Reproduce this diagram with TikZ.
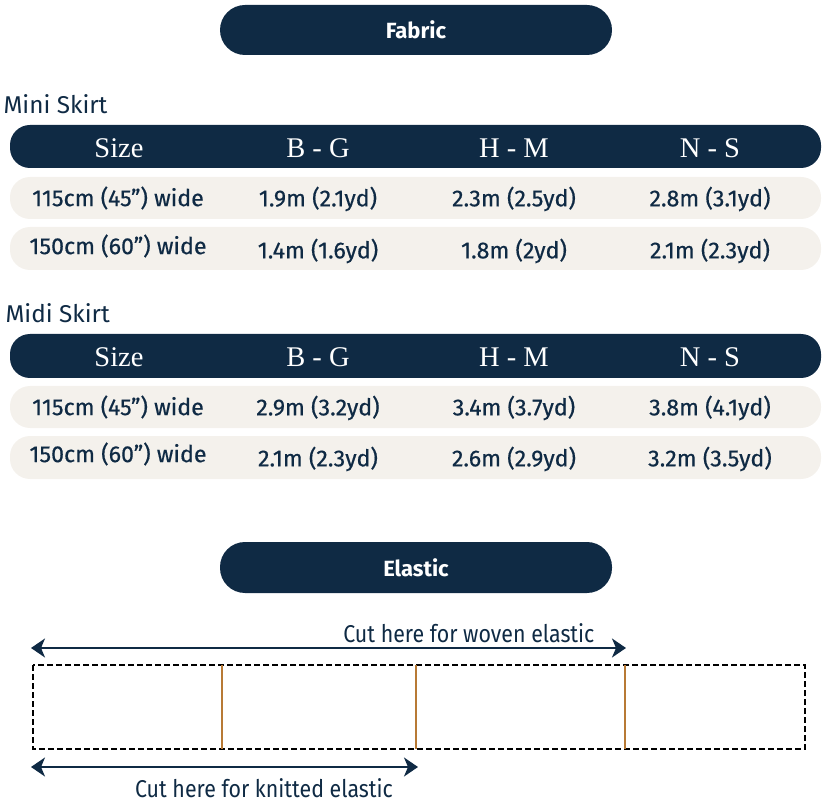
\documentclass[tikz,border=0pt]{standalone}
\usepackage{fontspec}
\setmainfont{Fira Sans}
\newfontfamily\headfont{Liberation Serif}
\newfontfamily\cellfont[FakeBold=0.5]{Fira Sans}
\newfontfamily\cutfont[FakeStretch=0.88]{Fira Sans}
\usetikzlibrary{arrows.meta}
\definecolor{navy}{HTML}{0F2A44}
\definecolor{rowbg}{HTML}{F4F1EC}
\definecolor{cutline}{HTML}{B87A35}
\tikzset{
  pill/.style={fill=navy, rounded corners=25pt},
  pilltext/.style={text=white, font=\bfseries\fontsize{22}{26}\selectfont},
  headrow/.style={fill=navy, rounded corners=20pt},
  datarow/.style={fill=rowbg, rounded corners=20pt},
  headtext/.style={text=white, font=\headfont\fontsize{28.5}{32}\selectfont},
  celltext/.style={text=navy, font=\cellfont\fontsize{23.2}{26}\selectfont},
  title/.style={text=navy, font=\fontsize{24.3}{28}\selectfont, anchor=west},
  cuttext/.style={text=navy, font=\cutfont\fontsize{24.3}{28}\selectfont},
  dimarrow/.style={navy, line width=2pt, {Stealth[length=14pt,width=19pt,inset=4pt]}-{Stealth[length=14pt,width=19pt,inset=4pt]}},
}
\begin{document}
\begin{tikzpicture}[x=1pt,y=1pt]
\useasboundingbox (0,0) rectangle (831,-805);
% Fabric pill
\fill[pill] (220,-5) rectangle (612,-55);
\node[pilltext] (fab) at (416,-30) {Fabric};
% Mini skirt
\node[title] (mini) at (0,-104) {Mini Skirt};
\fill[headrow] (10,-125) rectangle (821,-168);
\fill[datarow] (10,-177) rectangle (821,-219);
\fill[datarow] (10,-227) rectangle (821,-270);
\node[headtext] (m0) at (119,-148) {Size};
\node[headtext] (m1) at (318,-148) {B - G};
\node[headtext] (m2) at (514,-148) {H - M};
\node[headtext] (m3) at (710,-148) {N - S};
\node[celltext] (m10) at (118,-198) {115cm (45”) wide};
\node[celltext] (m11) at (318,-199) {1.9m (2.1yd)};
\node[celltext] (m12) at (514,-199) {2.3m (2.5yd)};
\node[celltext] (m13) at (710,-199) {2.8m (3.1yd)};
\node[celltext] (m20) at (118,-246) {150cm (60”) wide};
\node[celltext] (m21) at (318,-251) {1.4m (1.6yd)};
\node[celltext] (m22) at (514,-251) {1.8m (2yd)};
\node[celltext] (m23) at (710,-251) {2.1m (2.3yd)};
% Midi skirt
\node[title] (midi) at (2,-313) {Midi Skirt};
\fill[headrow] (10,-334) rectangle (821,-378);
\fill[datarow] (10,-386) rectangle (821,-428);
\fill[datarow] (10,-436) rectangle (821,-479);
\node[headtext] (d0) at (119,-357) {Size};
\node[headtext] (d1) at (318,-357) {B - G};
\node[headtext] (d2) at (514,-357) {H - M};
\node[headtext] (d3) at (710,-357) {N - S};
\node[celltext] (d10) at (118,-407) {115cm (45”) wide};
\node[celltext] (d11) at (318,-408) {2.9m (3.2yd)};
\node[celltext] (d12) at (514,-408) {3.4m (3.7yd)};
\node[celltext] (d13) at (710,-408) {3.8m (4.1yd)};
\node[celltext] (d20) at (118,-454) {150cm (60”) wide};
\node[celltext] (d21) at (318,-459) {2.1m (2.3yd)};
\node[celltext] (d22) at (514,-459) {2.6m (2.9yd)};
\node[celltext] (d23) at (710,-459) {3.2m (3.5yd)};
% Elastic pill
\fill[pill] (220,-542) rectangle (612,-593);
\node[pilltext] (ela) at (416,-568) {Elastic};
% elastic strip
\coordinate (wl) at (31,-648);
\coordinate (wr) at (626,-648);
\coordinate (kl) at (31,-767);
\coordinate (kr) at (418,-767);
\draw[dimarrow] (wl) -- (wr);
\node[cuttext, anchor=east] (wt) at (598,-633) {Cut here for woven elastic};
\draw[dash pattern=on 6pt off 3pt, line width=1.2pt, black] (33,-665) rectangle (805,-749);
\draw[cutline, line width=1.4pt] (222,-665) -- (222,-749);
\draw[cutline, line width=1.4pt] (416,-665) -- (416,-749);
\draw[cutline, line width=1.4pt] (625,-665) -- (625,-749);
\draw[dimarrow] (kl) -- (kr);
\node[cuttext] (kt) at (264,-788) {Cut here for knitted elastic};
\end{tikzpicture}
\end{document}
